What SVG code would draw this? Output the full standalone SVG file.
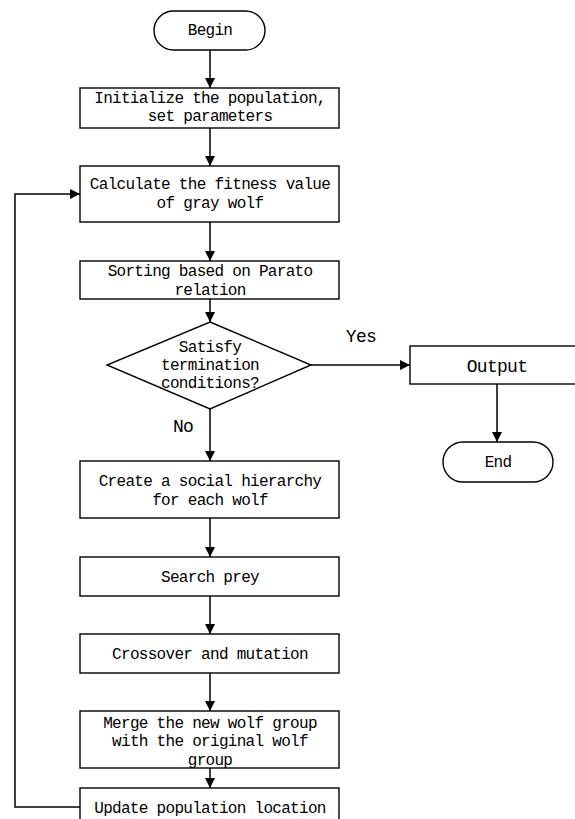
<svg xmlns="http://www.w3.org/2000/svg" width="575" height="819" viewBox="0 0 575 819">
<style>
.b{fill:#fff;stroke:#000;stroke-width:1.4}
.c{fill:none;stroke:#000;stroke-width:1.5}
text{font-family:"Liberation Mono",monospace;font-size:16px;letter-spacing:-0.7px;text-anchor:middle;fill:#000}
</style>
<defs>
<marker id="a" markerWidth="10" markerHeight="10" refX="10" refY="5" orient="auto" markerUnits="userSpaceOnUse">
<path d="M0,0 L10,5 L0,10 Z" fill="#000"/>
</marker>
</defs>
<g id="connectors">
<path class="c" d="M210,50 V88" marker-end="url(#a)"/>
<path class="c" d="M210,128 V166" marker-end="url(#a)"/>
<path class="c" d="M210,222 V261" marker-end="url(#a)"/>
<path class="c" d="M210,299 V322" marker-end="url(#a)"/>
<path class="c" d="M311,365 H410" marker-end="url(#a)"/>
<path class="c" d="M497,384 V442" marker-end="url(#a)"/>
<path class="c" d="M210,409 V461" marker-end="url(#a)"/>
<path class="c" d="M210,518 V557" marker-end="url(#a)"/>
<path class="c" d="M210,596 V634" marker-end="url(#a)"/>
<path class="c" d="M210,673 V711" marker-end="url(#a)"/>
<path class="c" d="M210,768 V788" marker-end="url(#a)"/>
<path class="c" d="M80,807 H15 V194 H80" marker-end="url(#a)"/>
<text x="361" y="342" style="font-size:18px">Yes</text>
<text x="183" y="432" style="font-size:18px">No</text>
</g>
<g id="begin"><rect class="b" x="154" y="11" width="111" height="39" rx="19.5"/><text x="210" y="35">Begin</text></g>
<g id="init"><rect class="b" x="80" y="88" width="259" height="40"/><text x="210" y="103">Initialize the population,</text><text x="210" y="121">set parameters</text></g>
<g id="calc"><rect class="b" x="80" y="166" width="259" height="56"/><text x="210" y="189">Calculate the fitness value</text><text x="210" y="208">of gray wolf</text></g>
<g id="sort"><rect class="b" x="80" y="261" width="259" height="38"/><text x="210" y="276">Sorting based on Parato</text><text x="210" y="295">relation</text></g>
<g id="decision"><polygon class="b" points="210,322 311,365 210,409 107,365"/><text x="210" y="352">Satisfy</text><text x="210" y="370">termination</text><text x="210" y="388">conditions?</text></g>
<g id="output"><rect class="b" x="410" y="346" width="170" height="38"/><text x="497" y="372" style="font-size:18px">Output</text></g>
<g id="end"><rect class="b" x="443" y="442" width="110" height="40" rx="20"/><text x="498" y="467">End</text></g>
<g id="create"><rect class="b" x="80" y="461" width="259" height="57"/><text x="210" y="486">Create a social hierarchy</text><text x="210" y="505">for each wolf</text></g>
<g id="search"><rect class="b" x="80" y="557" width="259" height="39"/><text x="210" y="582">Search prey</text></g>
<g id="crossover"><rect class="b" x="80" y="634" width="259" height="39"/><text x="210" y="659">Crossover and mutation</text></g>
<g id="merge"><rect class="b" x="80" y="711" width="259" height="57"/><text x="210" y="728">Merge the new wolf group</text><text x="210" y="746">with the original wolf</text><text x="210" y="765">group</text></g>
<g id="update"><rect class="b" x="80" y="788" width="259" height="40"/><text x="210" y="813">Update population location</text></g>
</svg>
